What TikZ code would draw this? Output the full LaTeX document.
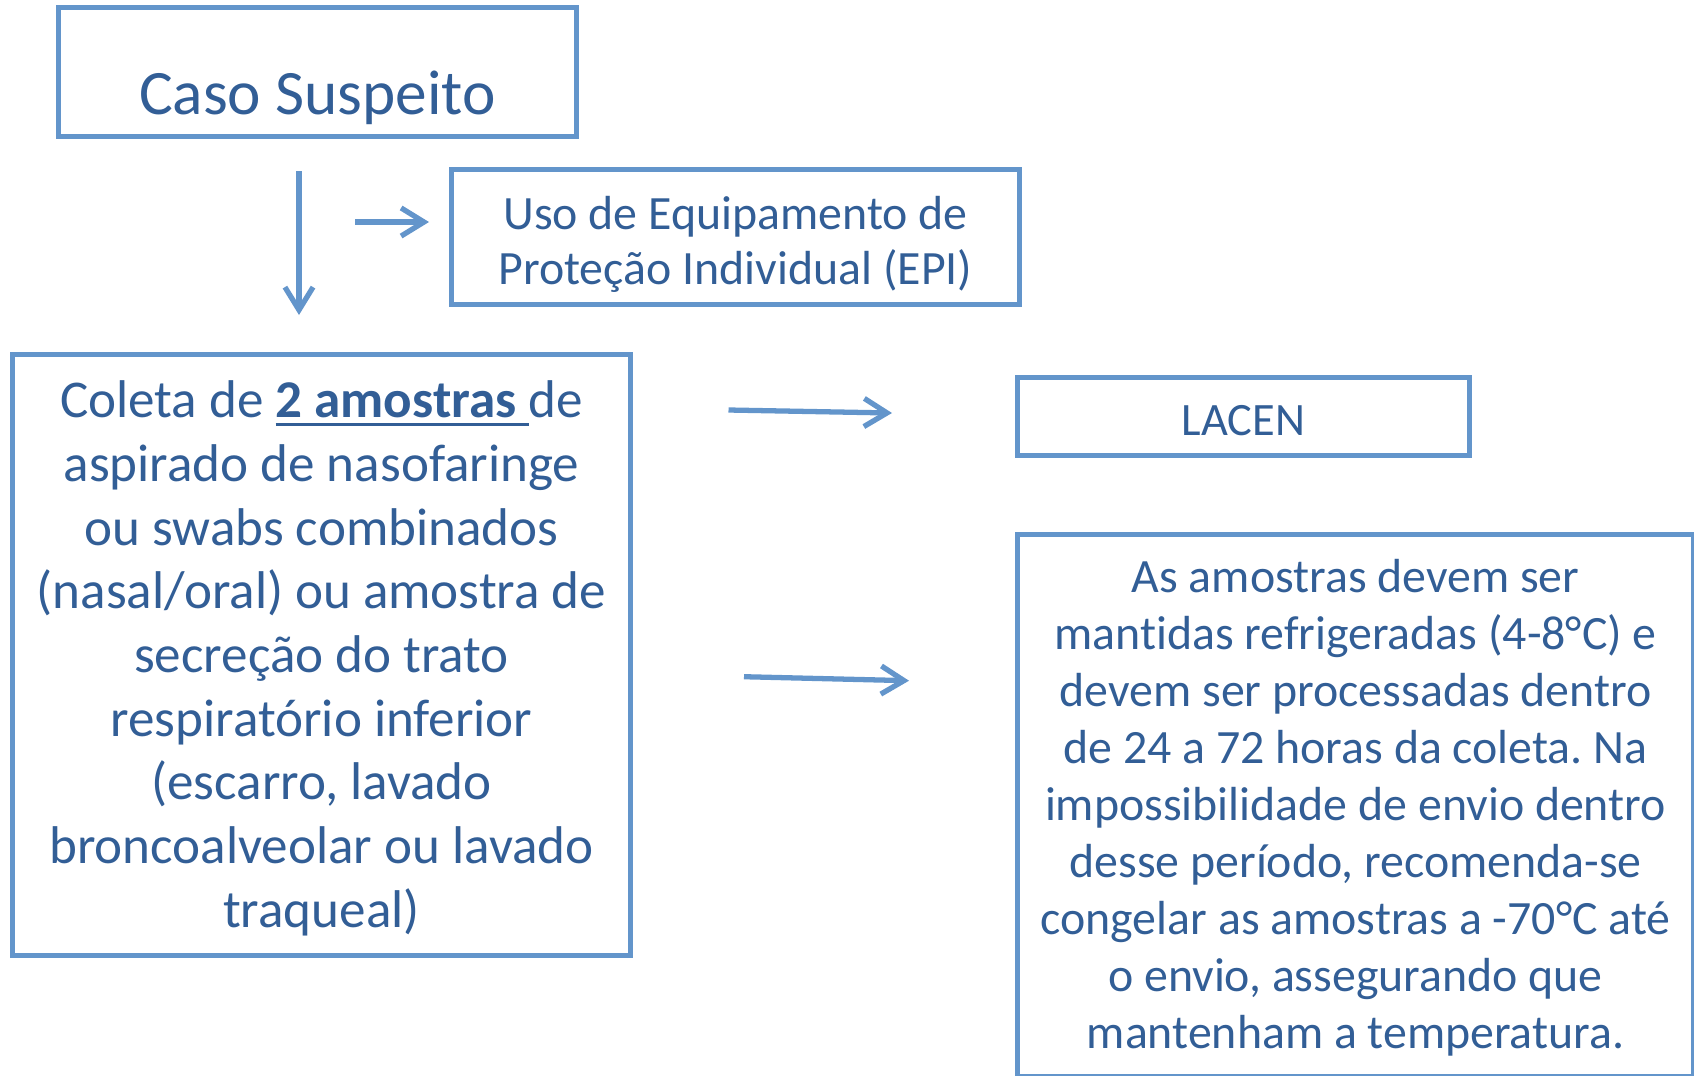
\documentclass[tikz,border=0pt]{standalone}
\usepackage{fontspec}
\setmainfont{Carlito}[Ligatures={NoCommon,NoContextual}]
\usetikzlibrary{arrows.meta}
\definecolor{borda}{RGB}{99,149,203}
\definecolor{texto}{RGB}{50,94,150}
\frenchspacing
\newcommand{\sublinha}[1]{\setbox0\hbox{#1}\rlap{\rule[-2.3pt]{\wd0}{0.8pt}}\box0}
\newcommand{\bloco}[2]{\raisebox{-#1}[\height][\depth]{\begin{tabular}{@{}c@{}}#2\end{tabular}}}
\tikzset{
  caixa/.style={draw=borda, line width=1.5pt, text=texto, inner sep=0pt},
  seta/.style={draw=borda, line width=1.5pt, -{Straight Barb[length=6.5pt,width=8pt]}}
}
\begin{document}
\begin{tikzpicture}[x=0.01cm,y=-0.01cm]
\useasboundingbox (0,0) rectangle (1694,1075);
% caixas
\node[caixa, minimum width=5.17cm, minimum height=1.29cm,
      font=\fontsize{18pt}{21.6pt}\selectfont] (caso) at (317.5,72)
      {\raisebox{-12pt}[0pt][0pt]{Caso Suspeito}};
\node[caixa, minimum width=5.67cm, minimum height=1.35cm,
      font=\fontsize{13.6pt}{15.5pt}\selectfont] (epi) at (735.5,237)
      {\bloco{2.6pt}{Uso de Equipamento de\\Proteção Individual (EPI)}};
\node[caixa, minimum width=6.18cm, minimum height=6.005cm,
      font=\fontsize{15.1pt}{18.1pt}\selectfont] (coleta) at (321.5,655.25)
      {\bloco{1.25pt}{Coleta de \sublinha{\textbf{2 amostras }}de\\
       aspirado de nasofaringe\\
       ou swabs combinados\\
       (nasal/oral) ou amostra de\\
       secreção do trato\\
       respiratório inferior\\
       (escarro, lavado\\
       broncoalveolar ou lavado\\
       traqueal)}};
\node[caixa, minimum width=4.52cm, minimum height=0.78cm,
      font=\fontsize{13.2pt}{15pt}\selectfont] (lacen) at (1243.5,416.5)
      {\bloco{2.5pt}{LACEN}};
\node[caixa, minimum width=6.76cm, minimum height=5.415cm,
      font=\fontsize{13.6pt}{16.2pt}\selectfont] (conserva) at (1355.5,805.25)
      {\bloco{1pt}{As amostras devem ser\\
       mantidas refrigeradas (4-8°C) e\\
       devem ser processadas dentro\\
       de 24 a 72 horas da coleta. Na\\
       impossibilidade de envio dentro\\
       desse período, recomenda-se\\
       congelar as amostras a -70°C até\\
       o envio, assegurando que\\
       mantenham a temperatura.}};
% setas
\coordinate (desceA) at (299,171);
\coordinate (desceB) at (299,315);
\coordinate (epiA) at (355,222);
\coordinate (epiB) at (429,222);
\coordinate (lacenA) at (728.5,410);
\coordinate (lacenB) at (892,413);
\coordinate (conservaA) at (744,676.7);
\coordinate (conservaB) at (909,680.7);
\draw[seta] (desceA) -- (desceB);
\draw[seta] (epiA) -- (epiB);
\draw[seta] (lacenA) -- (lacenB);
\draw[seta] (conservaA) -- (conservaB);
\end{tikzpicture}
\end{document}
